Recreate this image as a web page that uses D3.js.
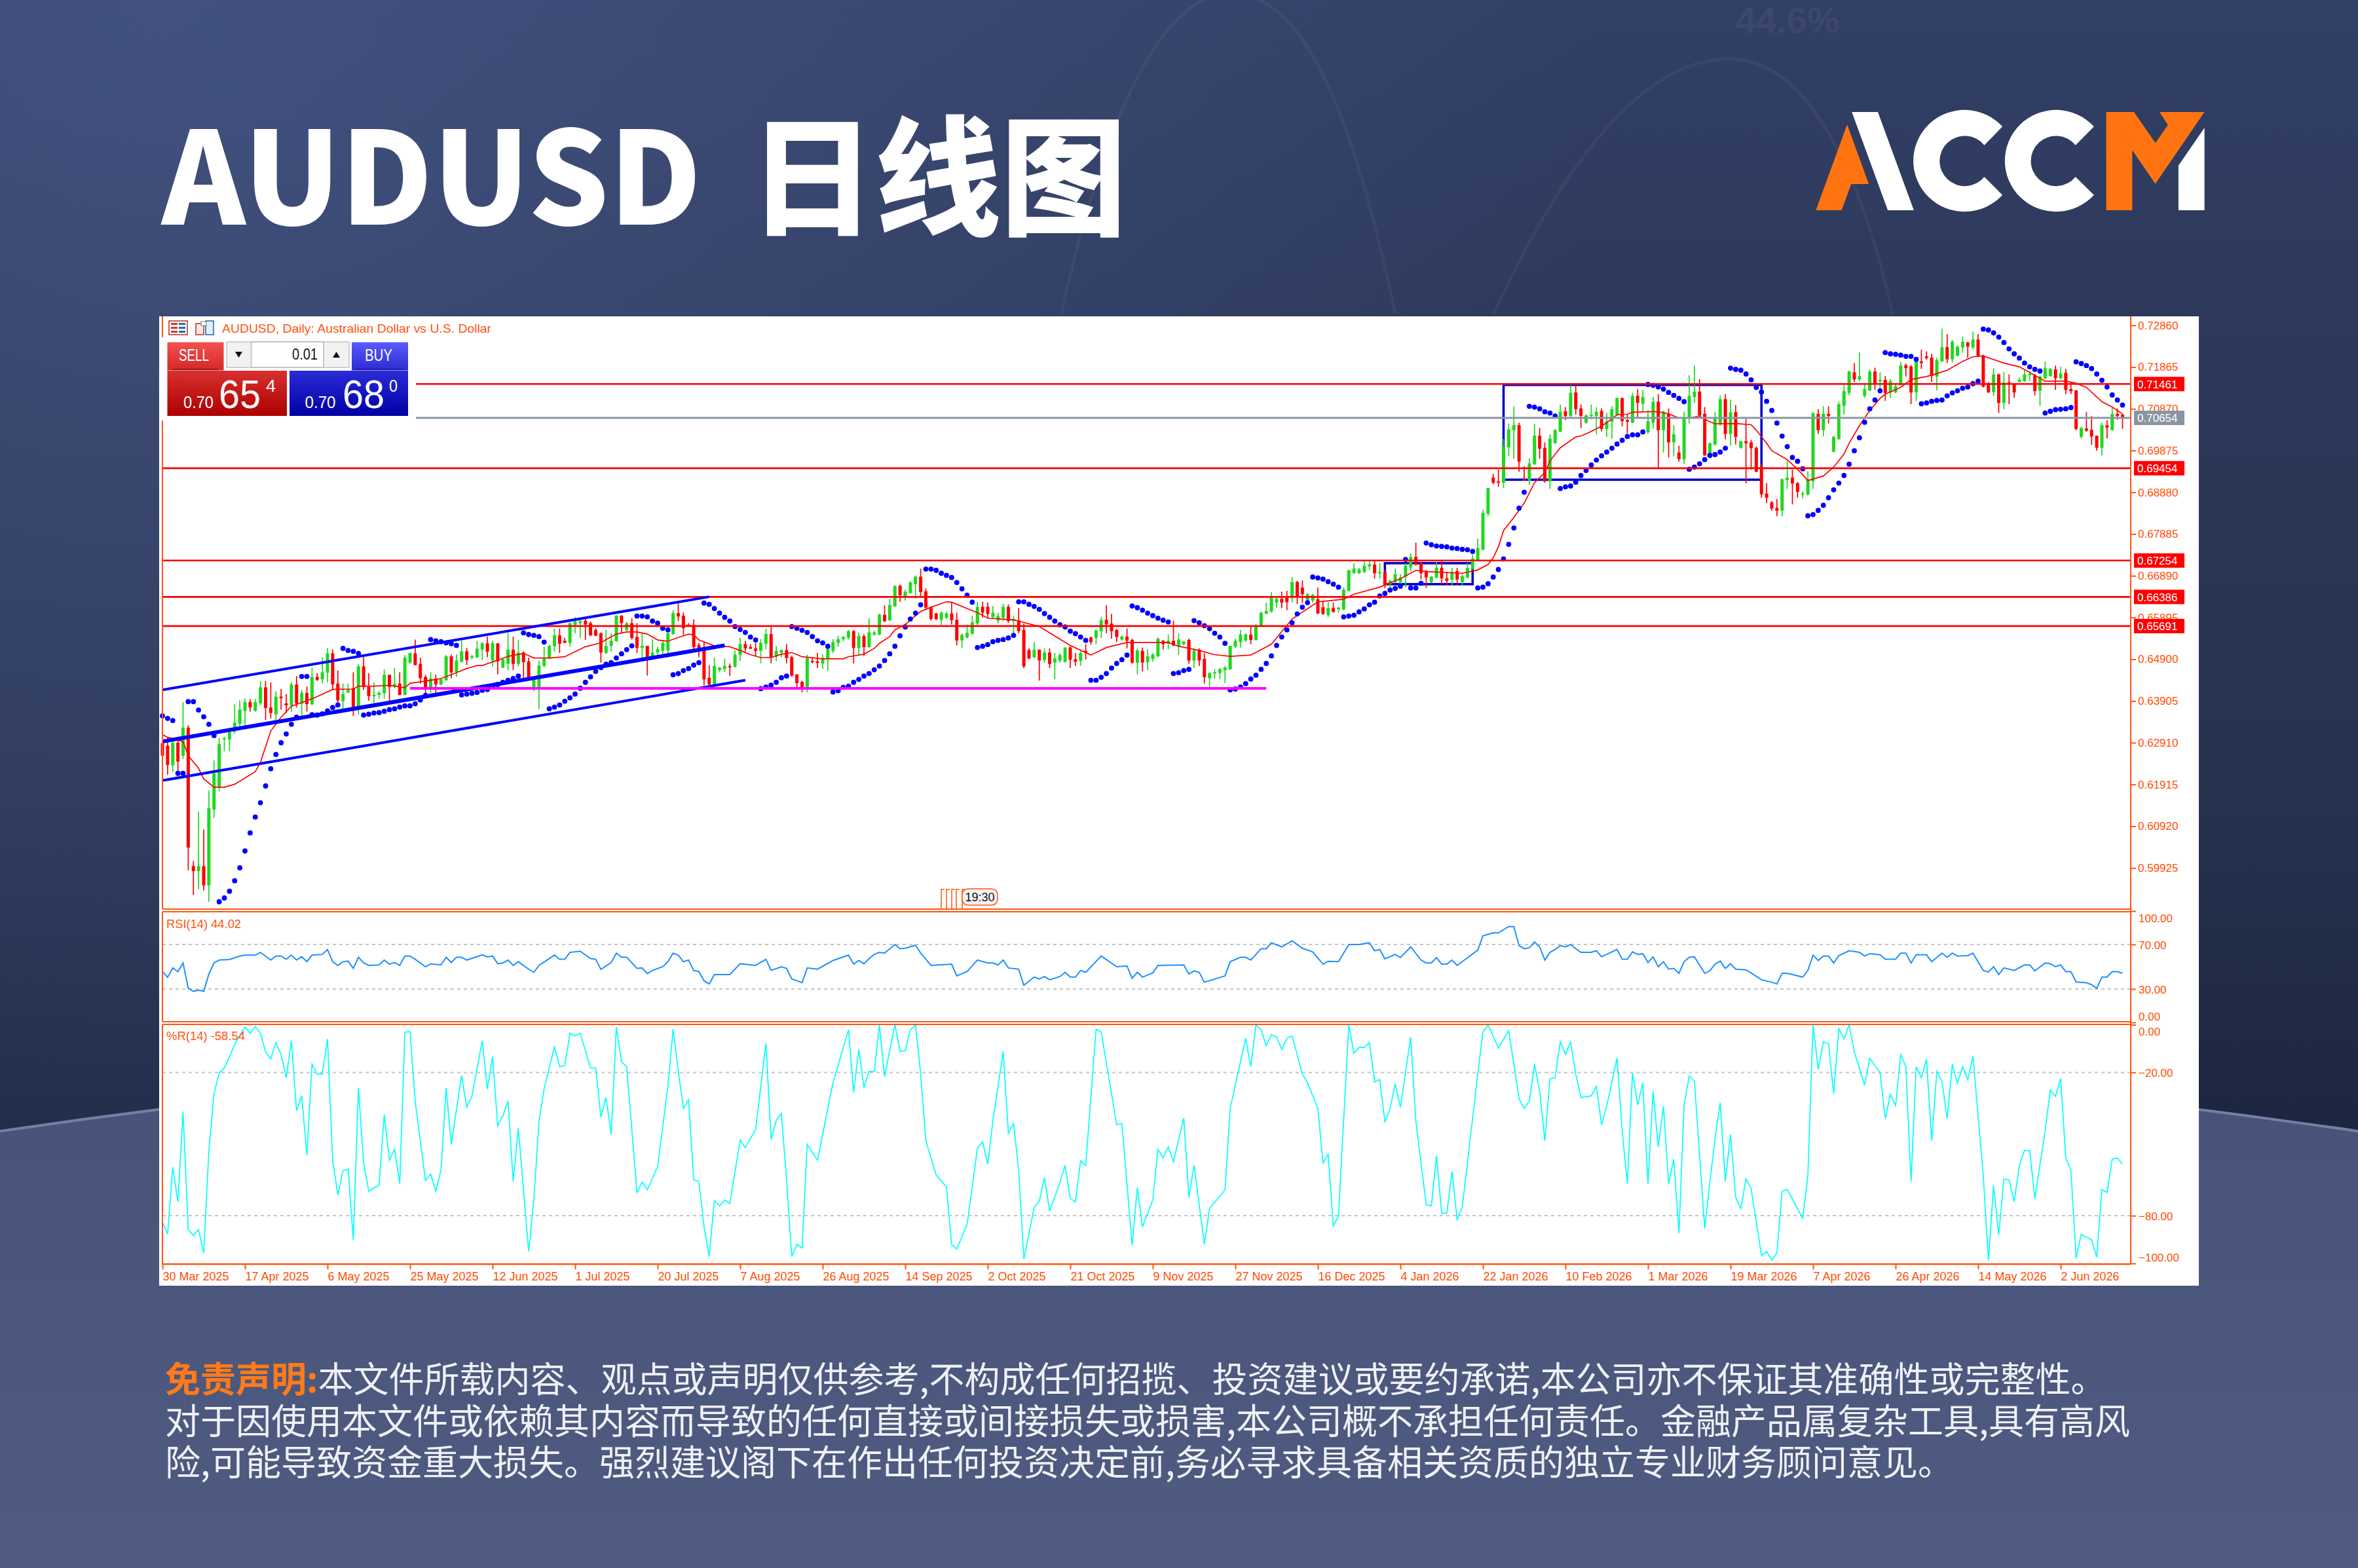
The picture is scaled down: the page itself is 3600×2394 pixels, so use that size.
<!DOCTYPE html>
<html lang="zh">
<head>
<meta charset="utf-8">
<title>AUDUSD 日线图</title>
<script src="https://cdn.jsdelivr.net/npm/d3@7"></script>
<style>
html,body{margin:0;padding:0;background:#2b3655;}
svg{display:block;}
.axis text{font-family:"Liberation Sans",Arial,sans-serif;font-size:17px;fill:#ff4f05;}
.axis path,.axis line{stroke:#ff5510;stroke-width:2;}
</style>
</head>
<body>
<svg id="chart" width="3600" height="2394" viewBox="0 0 3600 2394"></svg>
<script>
// Daily candles, in pips (price x 10000), one entry per trading bar.
const opens = [6290,6284,6237,6291,6260,6327,5997,5985,5997,5951,
6132,6185,6299,6299,6318,6336,6367,6388,6367,6385,
6423,6375,6359,6401,6385,6380,6430,6384,6410,6383,
6448,6442,6458,6504,6432,6390,6411,6421,6376,6473,
6424,6402,6405,6409,6453,6424,6432,6405,6482,6504,
6479,6448,6422,6444,6430,6440,6497,6459,6484,6509,
6495,6495,6513,6528,6487,6528,6470,6479,6513,6479,
6506,6485,6423,6422,6474,6492,6521,6547,6534,6529,
6572,6576,6582,6576,6560,6552,6505,6522,6533,6594,
6560,6576,6543,6517,6522,6495,6506,6510,6511,6550,
6600,6594,6572,6572,6524,6511,6446,6430,6464,6467,
6474,6472,6500,6526,6519,6516,6510,6527,6550,6496,
6506,6512,6495,6454,6436,6422,6486,6485,6480,6491,
6510,6529,6538,6541,6557,6517,6545,6519,6549,6549,
6596,6583,6616,6665,6640,6648,6669,6687,6652,6614,
6599,6584,6589,6599,6584,6535,6542,6551,6575,6615,
6615,6591,6582,6589,6615,6581,6583,6560,6512,6495,
6513,6488,6506,6482,6487,6484,6518,6490,6486,6510,
6542,6541,6557,6584,6575,6560,6537,6544,6536,6482,
6510,6483,6491,6497,6534,6527,6534,6521,6526,6536,
6487,6513,6491,6445,6456,6457,6464,6466,6520,6531,
6535,6549,6536,6568,6599,6604,6625,6634,6636,6639,
6674,6661,6631,6630,6633,6614,6595,6612,6609,6609,
6653,6695,6695,6698,6711,6716,6695,6697,6669,6674,
6674,6687,6709,6734,6720,6700,6674,6685,6708,6683,
6680,6700,6674,6685,6706,6726,6751,6837,6923,6914,
6911,6995,7036,7048,6919,6916,6955,7023,6994,6914,
7005,7033,7081,7070,7126,7088,7054,7070,7070,7082,
7039,7056,7073,7113,7060,7054,7118,7099,7031,7054,
7104,7036,7075,7007,6983,6967,7066,7115,7128,7075,
6981,7002,7051,7110,7027,7079,6994,7010,7007,6994,
6943,6885,6864,6851,6844,6917,6923,6910,6883,6883,
6914,7075,7036,7075,6985,7015,7094,7125,7174,7157,
7118,7131,7176,7153,7156,7126,7126,7143,7191,7188,
7126,7200,7212,7209,7164,7200,7234,7205,7214,7233,
7245,7233,7252,7214,7146,7127,7169,7101,7150,7147,
7151,7153,7167,7167,7130,7160,7165,7181,7160,7173,
7134,7131,7020,7040,7037,7023,6994,7048,7036,7075,7073];
const closes = [6260,6238,6291,6246,6327,6041,5985,5997,5951,6135,
6218,6288,6302,6316,6339,6370,6388,6375,6388,6423,
6374,6362,6401,6397,6380,6430,6384,6410,6383,6448,
6441,6459,6504,6430,6392,6407,6417,6375,6473,6424,
6402,6405,6410,6453,6424,6431,6405,6494,6505,6476,
6445,6422,6444,6430,6442,6497,6459,6487,6509,6488,
6497,6515,6528,6508,6528,6485,6490,6513,6479,6506,
6483,6445,6443,6475,6492,6522,6547,6527,6529,6576,
6580,6581,6573,6547,6546,6506,6522,6534,6594,6576,
6576,6541,6517,6522,6494,6506,6514,6529,6552,6600,
6592,6564,6568,6519,6517,6442,6430,6474,6470,6474,
6472,6501,6526,6516,6515,6510,6529,6550,6494,6510,
6512,6493,6451,6433,6422,6493,6483,6481,6493,6515,
6531,6538,6543,6557,6517,6545,6519,6554,6554,6596,
6581,6619,6665,6643,6651,6673,6687,6650,6613,6586,
6586,6601,6599,6583,6535,6548,6553,6578,6615,6601,
6598,6601,6593,6615,6581,6586,6557,6473,6492,6513,
6487,6506,6479,6492,6500,6518,6489,6484,6505,6505,
6531,6558,6583,6573,6557,6543,6544,6534,6482,6511,
6482,6497,6501,6539,6526,6534,6523,6537,6532,6487,
6511,6487,6447,6457,6459,6466,6470,6522,6534,6549,
6549,6536,6570,6601,6605,6636,6634,6625,6626,6674,
6639,6645,6645,6643,6599,6598,6612,6603,6613,6656,
6702,6706,6704,6713,6716,6695,6698,6667,6677,6693,
6685,6713,6734,6716,6695,6685,6687,6708,6683,6677,
6698,6680,6688,6708,6730,6755,6839,6898,6911,6911,
6997,7038,7048,6961,6916,6957,7023,6992,6914,7016,
7036,7080,7070,7125,7086,7070,7071,7073,7080,7039,
7057,7086,7113,7058,7056,7118,7101,7115,7057,7104,
7036,7080,7007,7026,6967,7065,7118,7128,7071,6976,
7005,7065,7110,7027,7079,7020,7010,7005,6993,6937,
6883,6875,6849,6844,6919,6923,6909,6889,6885,6919,
7077,7036,7075,7070,7020,7098,7129,7176,7157,7165,
7134,7176,7147,7156,7125,7153,7141,7190,7184,7126,
7200,7196,7208,7165,7203,7234,7205,7247,7235,7247,
7235,7252,7213,7140,7126,7169,7101,7150,7147,7126,
7156,7169,7170,7129,7164,7184,7182,7160,7171,7132,
7129,7039,7041,7035,7021,6994,7048,7042,7075,7070,7065];
const highs = [6305,6305,6299,6305,6388,6333,6009,6127,6084,6177,
6249,6302,6305,6324,6383,6392,6396,6395,6395,6438,
6438,6435,6414,6419,6407,6435,6450,6417,6425,6470,
6457,6495,6517,6513,6463,6432,6432,6459,6479,6495,
6457,6435,6414,6466,6453,6469,6459,6500,6506,6537,
6494,6453,6459,6453,6445,6500,6501,6502,6535,6517,
6501,6534,6531,6544,6534,6528,6492,6553,6544,6537,
6509,6494,6445,6487,6520,6525,6563,6563,6541,6577,
6591,6586,6586,6580,6564,6554,6560,6552,6595,6595,
6579,6588,6576,6552,6522,6538,6520,6536,6567,6607,
6625,6602,6576,6585,6529,6532,6476,6494,6472,6491,
6480,6511,6541,6534,6526,6529,6538,6563,6567,6522,
6513,6526,6498,6454,6439,6501,6493,6505,6501,6516,
6538,6546,6545,6560,6560,6554,6550,6588,6558,6599,
6619,6634,6665,6668,6656,6676,6690,6706,6659,6616,
6601,6604,6603,6626,6601,6552,6573,6594,6627,6627,
6625,6617,6601,6622,6621,6594,6612,6575,6516,6531,
6513,6516,6516,6505,6505,6518,6521,6505,6513,6526,
6544,6562,6591,6619,6598,6562,6547,6563,6539,6516,
6518,6513,6505,6542,6536,6549,6582,6552,6534,6539,
6516,6516,6505,6459,6466,6469,6474,6522,6539,6560,
6552,6568,6575,6603,6625,6650,6636,6651,6653,6686,
6677,6678,6648,6646,6661,6627,6627,6625,6615,6661,
6703,6719,6708,6725,6724,6726,6719,6703,6680,6706,
6693,6719,6742,6768,6721,6703,6688,6721,6725,6698,
6708,6708,6693,6719,6739,6777,6846,6898,6932,6942,
7015,7051,7093,7054,6950,6969,7051,7041,7007,7026,
7039,7097,7091,7143,7143,7097,7074,7097,7091,7088,
7078,7093,7114,7113,7075,7125,7134,7131,7084,7115,
7122,7083,7088,7048,6999,7080,7167,7190,7158,7091,
7007,7080,7119,7122,7109,7096,7011,7063,7013,6997,
6955,6910,6867,6872,6921,6963,6942,6912,6891,6938,
7079,7086,7093,7093,7023,7104,7144,7178,7196,7221,
7145,7181,7185,7174,7165,7158,7147,7199,7195,7191,
7202,7228,7224,7218,7209,7278,7265,7251,7238,7259,
7247,7271,7265,7216,7151,7184,7171,7174,7169,7148,
7162,7179,7177,7170,7166,7200,7184,7190,7187,7182,
7150,7132,7044,7079,7070,7023,7054,7060,7089,7088,7075];
const lows = [6240,6215,6221,6216,6252,5987,5928,5942,5939,5912,
6112,6176,6271,6271,6313,6328,6323,6365,6365,6380,
6345,6349,6344,6370,6362,6365,6375,6354,6365,6380,
6438,6432,6435,6419,6385,6371,6409,6355,6358,6417,
6391,6385,6396,6396,6390,6421,6404,6404,6479,6476,
6432,6406,6409,6409,6428,6438,6445,6448,6482,6476,
6490,6492,6488,6495,6473,6454,6469,6464,6464,6473,
6445,6444,6414,6371,6471,6490,6508,6505,6529,6520,
6552,6541,6536,6545,6545,6482,6503,6508,6532,6552,
6555,6537,6505,6494,6451,6494,6501,6502,6505,6548,
6581,6548,6567,6514,6495,6428,6428,6429,6459,6459,
6450,6470,6486,6508,6515,6498,6480,6514,6480,6486,
6495,6480,6448,6422,6411,6411,6480,6469,6467,6462,
6505,6520,6533,6537,6480,6501,6498,6517,6546,6547,
6578,6581,6615,6627,6630,6646,6635,6640,6610,6582,
6583,6572,6586,6573,6523,6517,6539,6549,6568,6589,
6588,6586,6575,6581,6577,6552,6552,6469,6490,6492,
6439,6482,6469,6442,6482,6482,6469,6474,6475,6489,
6525,6526,6541,6552,6539,6531,6534,6516,6479,6454,
6461,6464,6484,6495,6513,6514,6521,6500,6523,6479,
6469,6474,6432,6422,6443,6443,6433,6465,6516,6518,
6531,6526,6534,6567,6597,6601,6613,6612,6607,6625,
6622,6625,6620,6625,6598,6596,6591,6601,6601,6607,
6652,6694,6694,6695,6703,6682,6682,6659,6661,6672,
6667,6661,6700,6713,6680,6660,6672,6682,6669,6667,
6667,6667,6667,6682,6703,6724,6750,6831,6907,6901,
6898,6974,6968,6937,6916,6906,6953,6968,6911,6896,
7004,7031,7060,7068,7073,7041,7051,7062,7026,7033,
7020,7015,7070,7045,7028,7053,7065,7080,7028,7039,
6945,6983,6971,6974,6961,6955,7052,7101,7070,6975,
6974,6999,7046,7014,6999,7002,6992,6909,6942,6936,
6875,6862,6844,6831,6831,6896,6859,6875,6874,6880,
6896,7027,7021,7052,6983,7013,7073,7119,7151,7153,
7113,7129,7132,7132,7106,7113,7124,7143,7164,7098,
7106,7182,7204,7151,7131,7199,7196,7197,7211,7221,
7208,7228,7212,7138,7125,7117,7077,7086,7098,7113,
7150,7151,7153,7119,7094,7157,7164,7132,7157,7122,
7122,7036,7016,7032,7001,6987,6976,7016,7035,7061,7039];

// Parabolic SAR, one dot per bar, in pips.
const sar = [6355,6349,6344,6218,6218,6389,6389,6369,6353,6335,
6308,5912,5921,5937,5962,5993,6033,6076,6114,6148,
6188,6229,6263,6291,6312,6335,6352,6449,6449,6358,
6357,6360,6367,6375,6381,6516,6511,6509,6504,6357,
6359,6362,6363,6366,6370,6372,6376,6379,6379,6384,
6393,6404,6537,6534,6532,6529,6527,6523,6405,6407,
6409,6411,6416,6418,6424,6430,6435,6440,6444,6450,
6553,6549,6547,6544,6531,6372,6376,6381,6390,6398,
6407,6421,6435,6448,6461,6470,6478,6482,6493,6503,
6513,6522,6593,6593,6591,6581,6576,6564,6560,6453,
6456,6463,6468,6476,6482,6624,6621,6611,6600,6590,
6581,6568,6561,6554,6543,6536,6420,6424,6428,6435,
6446,6450,6568,6564,6559,6554,6544,6534,6529,6521,
6412,6415,6423,6426,6435,6442,6450,6456,6465,6474,
6487,6503,6521,6546,6567,6586,6600,6620,6705,6705,
6702,6695,6690,6685,6673,6658,6643,6626,6518,6521,
6525,6532,6535,6537,6541,6547,6627,6627,6621,6616,
6609,6599,6590,6581,6572,6567,6557,6551,6543,6535,
6440,6440,6447,6456,6469,6480,6489,6500,6617,6613,
6607,6600,6594,6588,6583,6579,6456,6458,6463,6466,
6582,6577,6570,6563,6552,6543,6528,6417,6419,6424,
6432,6443,6452,6466,6480,6498,6523,6543,6560,6577,
6598,6614,6625,6686,6684,6681,6675,6669,6662,6591,
6593,6595,6603,6610,6620,6626,6641,6647,6655,6659,
6664,6728,6660,6660,6671,6767,6763,6760,6759,6758,
6755,6754,6752,6751,6747,6660,6662,6670,6686,6704,
6729,6764,6803,6850,6888,7093,7091,7087,7080,7077,
7070,6897,6901,6903,6912,6928,6940,6953,6965,6975,
6984,6993,7003,7012,7021,7025,7025,7032,7145,7143,
7139,7134,7126,7119,7112,7104,6943,6948,6956,6966,
6976,6978,6984,6993,7184,7181,7179,7170,7156,7138,
7127,7105,7083,7053,7022,6997,6971,6962,6944,6832,
6835,6845,6857,6875,6894,6910,6928,6955,6987,7018,
7055,7087,7108,7130,7221,7218,7217,7215,7212,7212,
7205,7099,7101,7105,7107,7108,7118,7125,7130,7136,
7139,7147,7153,7277,7275,7268,7258,7245,7230,7218,
7208,7196,7187,7181,7177,7077,7081,7085,7086,7087,
7090,7199,7195,7190,7183,7170,7155,7139,7120,7108,7096];

// Moving average: turning points of the line, as bar number and pips.
const maBars = [0,1,4,5,7,8,10,12,14,18,19,21,23,25,28,30,33,37,38,41,44,46,47,48,50,52,54,57,59,61,62,65,67,70,72,75,78,80,82,85,86,88,90,92,94,96,98,100,102,103,104,107,110,112,114,116,118,120,122,124,128,132,133,136,138,139,141,142,144,147,149,152,153,158,160,165,166,170,176,180,183,187,195,197,201,204,207,211,215,219,224,229,231,236,240,243,245,252,255,257,258,259,260,262,264,266,268,269,271,274,275,277,279,280,282,284,285,288,290,292,294,296,298,299,301,305,308,309,311,312,315,317,319,322,324,326,327,329,331,333,334,337,339,342,344,346,349,351,353,357,360,362,365,369,371,373,376,378,380];
const maValues = [6310,6304,6294,6260,6230,6205,6185,6185,6192,6222,6244,6319,6352,6378,6391,6401,6418,6419,6426,6426,6428,6424,6422,6433,6436,6440,6444,6458,6468,6475,6475,6488,6497,6504,6493,6493,6496,6508,6520,6529,6537,6550,6555,6555,6550,6536,6533,6542,6550,6548,6536,6522,6520,6511,6501,6494,6494,6502,6506,6496,6491,6491,6496,6502,6516,6528,6544,6560,6573,6604,6614,6627,6626,6601,6588,6584,6581,6568,6523,6500,6518,6530,6530,6521,6511,6501,6497,6500,6526,6586,6627,6633,6645,6662,6682,6702,6699,6695,6703,6716,6732,6758,6797,6828,6862,6911,6935,6963,6994,7020,7022,7033,7046,7054,7073,7074,7079,7080,7080,7075,7065,7065,7070,7062,7051,7052,7049,7036,7005,6987,6966,6943,6916,6927,6948,6979,7005,7047,7083,7112,7122,7138,7157,7164,7171,7179,7200,7211,7213,7196,7187,7174,7153,7153,7148,7138,7104,7091,7075];

// RSI(14): vertices of the line, as bar number and value.
const rsiBars = [0,1,2,3,4,5,6,7,8,9,10,11,13,15,16,18,19,21,22,23,24,25,26,27,28,29,31,32,33,34,35,36,37,38,39,40,42,43,44,45,46,47,48,49,51,52,54,55,56,57,58,59,62,63,64,65,66,67,68,69,71,72,73,76,77,78,79,81,83,84,85,87,88,89,90,92,93,94,95,97,98,99,100,101,102,103,104,105,106,107,110,112,115,117,118,120,121,122,123,124,125,127,130,133,134,135,136,137,138,139,140,142,143,144,146,147,149,153,154,156,158,160,161,162,163,164,166,167,169,170,171,172,174,175,176,177,178,179,182,185,187,188,189,190,192,193,198,199,200,201,202,206,207,209,210,211,213,214,215,217,219,221,223,225,226,228,230,232,234,235,236,237,239,240,242,244,245,246,247,248,249,250,251,255,256,258,259,261,262,263,264,265,266,267,268,269,270,271,272,273,274,275,277,278,279,280,282,283,284,285,286,287,288,289,290,291,292,293,294,295,296,297,299,300,301,302,303,304,305,307,308,310,312,313,314,315,318,319,320,321,322,323,324,325,327,329,330,331,333,334,336,337,338,339,340,342,343,345,346,347,348,350,351,353,354,355,356,357,359,361,362,363,365,366,367,368,369,370,371,373,374,375,376,377,378,379,380];
const rsiValues = [45.6,40.5,49,45.6,53.4,30.6,27.9,29,27.9,43.4,53.4,56,56.5,59.6,60.4,60.4,62.9,56,59.6,59.6,56.7,60.4,56,58.9,54.5,60.4,61.1,65.5,54.5,51.2,54.5,55.1,48.5,58.5,53.4,51.2,51.6,56,52.3,53.8,51.2,59.6,59.6,56.7,50,52.7,51.6,58.5,53.8,58.5,58.5,56,60.7,58.9,59.6,52.7,53.4,56,51.2,54.5,47.8,45,51.2,60.4,56.7,56.7,62.9,64,57.3,56.7,47.6,53.8,62.2,58.5,58.5,48.5,48.9,43.8,46.7,50,54.5,62.2,60.4,54.5,56,46.7,45.6,37.4,34.5,43,43,52.7,51.2,56.7,46.7,50,48.5,39,37.4,35.6,48.9,47.8,55.6,60.4,52.3,55.6,52.7,57.3,61.1,62.9,62.2,70,66.2,66.6,69.3,62.2,51.2,52.3,41.8,45.6,56,53.4,53.4,51.6,56,48.9,47.8,33.4,40.7,39,41.2,38.3,41.2,45,40.7,40.7,46.7,45,59.6,50,50.7,39.6,45,40.7,44.5,51.2,51.6,43.4,46.3,45,36.1,41.8,54.5,58.5,58.5,56,66.2,66.2,71.5,67.8,73.3,66.6,63.3,52.3,54.9,54.5,70,70,71.5,64.4,65.5,57.1,61.1,58.2,67.8,56,53.4,53.4,58.2,52.3,52.3,56,51.2,64.9,77.7,80.4,80.4,86.1,86.1,68.9,66.2,67.1,72.2,67.8,56,62.9,65.5,68.9,67.8,70,66.2,62.9,62.9,64.4,58.9,61.1,65.5,56.7,56.7,63.3,61.1,61.8,53.8,58.9,50,54.5,47.8,48.5,44.1,54.5,58.5,58.9,44.1,46.3,52.3,55.1,48.5,52.7,47.8,47.2,44.5,38.3,36.1,34.5,44.1,44.1,40.7,46.7,60.4,55.6,59.6,59.6,53.4,60,64.4,62.9,59.6,61.8,60.7,56.7,56.7,62.2,62.2,53.4,60.7,60.7,54.5,62.2,58.5,62.2,59.6,60,62.2,46.7,45.2,50,43,48.9,46.7,51.6,51.6,46.3,53.4,52.7,50,51.6,45.6,45.6,36.3,35.6,33.9,30.6,40.7,40.7,45.6,45.6,44.1];

// Williams %R(14): vertices of the line, as bar number and value.
const wprBars = [0,1,2,3,4,5,6,7,8,9,10,11,12,13,14,16,17,18,19,20,21,22,23,24,25,26,27,28,29,30,31,32,33,34,35,36,37,38,39,40,42,43,44,45,46,47,48,49,51,52,53,54,55,56,58,59,60,62,63,64,65,66,67,68,69,71,72,73,74,76,77,78,79,80,81,83,84,85,86,87,88,89,90,92,93,94,96,98,99,100,101,102,103,104,105,106,107,108,109,110,112,113,115,117,118,119,120,121,122,123,124,125,127,130,133,134,135,136,137,138,139,140,142,143,144,145,146,147,148,150,152,153,154,156,158,159,160,161,163,164,165,166,167,169,170,171,172,174,175,176,177,178,179,181,182,185,186,188,189,190,192,193,194,195,196,198,199,200,202,203,206,207,210,211,212,213,214,215,216,217,218,219,221,222,224,225,226,227,228,230,231,232,233,234,235,236,237,238,239,240,242,243,245,246,247,248,249,250,251,252,255,256,257,259,261,263,264,265,266,267,268,269,270,271,272,273,274,275,277,278,279,280,282,283,284,285,286,287,288,289,290,291,292,293,294,295,296,297,299,300,301,302,303,304,305,306,307,308,310,311,312,313,314,315,318,319,320,321,322,323,324,325,326,327,328,330,331,333,334,335,336,337,338,339,340,341,342,343,344,345,346,347,348,349,350,351,353,354,355,356,357,358,359,360,361,362,363,365,366,367,368,369,370,371,372,374,375,376,377,378,379,380];
const wprValues = [-82.7,-87.8,-59.7,-74.2,-36.7,-85.8,-88.3,-85.8,-95.8,-52.7,-28.9,-20.2,-18.1,-13.4,-8.3,-1,-3.6,-0.7,-3.6,-11.4,-14.3,-7.5,-12.4,-22.2,-6.7,-36,-29.8,-54.8,-16.5,-20.7,-20.7,-6,-56.8,-71.3,-61.2,-60.4,-90.1,-26.4,-57.9,-69.7,-67.2,-37.7,-56.8,-52.2,-66.6,-3.1,-2.9,-32,-65.3,-62.5,-69.7,-61,-26.4,-50.1,-21.2,-34.6,-30,-6.7,-26.9,-13.4,-42.4,-38.2,-32,-65.6,-43.4,-95,-73.4,-40.3,-26.9,-9.1,-17.6,-17.1,-3.6,-4.7,-3.6,-18.1,-18.1,-38.7,-30.5,-46,-1,-15.5,-17.6,-70.3,-65.9,-69.2,-59.4,-25.8,-1.9,-19.6,-35.1,-31.5,-65,-65.6,-84.7,-97.1,-73.6,-76,-73.4,-74.9,-48.4,-51.5,-43.9,-7.8,-48,-40.1,-37.2,-65.1,-97.1,-92,-93.5,-50.1,-56.8,-24.3,-2.1,-28.4,-10.3,-26.4,-19.6,-19.6,0,-21.7,0,-11.1,-10.9,-2.1,0,-20.7,-48.6,-63,-68,-92,-94,-83.7,-51.7,-49.1,-58.4,-40.3,-11.1,-45.5,-41.3,-61,-98.2,-76.5,-73.9,-64.1,-78,-66.1,-58.9,-72.8,-74.2,-57,-58.9,-1.9,-3.1,-41.9,-41.3,-92.5,-68.2,-84.7,-73.4,-52.2,-55.8,-51.2,-57.4,-39.1,-72.3,-58.9,-92,-77,-69.2,-35.1,-5.7,-17.6,0,-2.1,-8.8,-4.2,-5.2,-10.3,-5.7,-4.7,-20.7,-24.3,-35.1,-57.9,-54.3,-84.2,-80.1,0,-11.9,-9.5,-9.5,-7.5,-24,-23,-40.8,-35.1,-24.8,-34.6,-5.2,-40.3,-75.4,-75.9,-54.8,-79,-79,-61.5,-81.6,-76.5,-20.7,-3.1,0,-9.8,-2.6,-31,-35.1,-32,-16.5,-27.9,-48.6,-22.7,-22.2,-7.2,-12.4,-7.2,-20.7,-30.5,-29.8,-25.8,-41.9,-34.1,-14,-44.4,-66.6,-20.2,-33.6,-24.3,-66.6,-27.9,-51.2,-34.1,-66.6,-56.3,-87.3,-33.6,-21.4,-23.8,-85.2,-66.1,-47.5,-32.6,-65.6,-46,-72.3,-77,-64.6,-68.7,-96.6,-95,-98.7,-95.6,-69.7,-69,-81.1,-63,0,-18.6,-7.2,-8.1,-28.9,-1.6,-6,0,-11.4,-25.3,-14,-20.2,-39.3,-29.2,-33.9,-12.6,-17.6,-65.6,-17.6,-22.2,-14.5,-48.6,-19.6,-23.8,-39.3,-16.5,-24.6,-17.6,-23,-13.2,-63,-98.9,-67.4,-88,-64.6,-65.1,-74.2,-58.9,-52.7,-52.7,-72.8,-44.4,-27.4,-30,-22.5,-55.8,-61,-97.8,-87.8,-90.1,-97.3,-69,-70.3,-56.3,-55.8,-58.4];

// Axis labels and reference levels.
const priceTicks = [0.72860,0.71865,0.70870,0.69875,0.68880,0.67885,0.66890,0.65895,0.64900,0.63905,0.62910,0.61915,0.60920,0.59925];
const levels = [0.71461,0.69454,0.67254,0.66386,0.65691];
const bidLevel = 0.70654;
const rsiTicks = [100,70,30,0];
const wprTicks = [0,-20,-80,-100];
const dateLabels = ["30 Mar 2025","17 Apr 2025","6 May 2025","25 May 2025","12 Jun 2025","1 Jul 2025","20 Jul 2025","7 Aug 2025","26 Aug 2025","14 Sep 2025","2 Oct 2025","21 Oct 2025","9 Nov 2025","27 Nov 2025","16 Dec 2025","4 Jan 2026","22 Jan 2026","10 Feb 2026","1 Mar 2026","19 Mar 2026","7 Apr 2026","26 Apr 2026","14 May 2026","2 Jun 2026"];

// Drawn objects: bar/pips endpoints of the channel, support line and boxes.
const channels = [
  {from:[0,6417],to:[106,6639],w:4},
  {from:[0,6294],to:[109,6523],w:6},
  {from:[0,6201],to:[113,6440],w:4}
];
const supportLine = {from:[48,6420.5],to:[214,6420.5]};
const boxes = [
  {bars:[260,310],pips:[7144,6918]},
  {bars:[237,254],pips:[6719,6669]}
];

const disclaimerHead = "免责声明:";
const disclaimerLines = [
  "本文件所载内容、观点或声明仅供参考,不构成任何招揽、投资建议或要约承诺,本公司亦不保证其准确性或完整性。",
  "对于因使用本文件或依赖其内容而导致的任何直接或间接损失或损害,本公司概不承担任何责任。金融产品属复杂工具,具有高风",
  "险,可能导致资金重大损失。强烈建议阁下在作出任何投资决定前,务必寻求具备相关资质的独立专业财务顾问意见。"
];

const ORANGE = "#ff5510";
const CJK = '"Noto Sans CJK SC","Noto Sans",sans-serif';
const LATIN = '"Liberation Sans",Arial,sans-serif';

const svg = d3.select("#chart");
const defs = svg.append("defs");

function gradient(id, stops, dir) {
  const g = defs.append("linearGradient").attr("id", id)
    .attr("x1", dir ? dir[0] : 0).attr("y1", dir ? dir[1] : 0)
    .attr("x2", dir ? dir[2] : 0).attr("y2", dir ? dir[3] : 1);
  stops.forEach(s => g.append("stop").attr("offset", s[0]).attr("stop-color", s[1]));
}
gradient("pageBg", [[0,"#323f66"],[0.25,"#2c3859"],[0.5,"#27324f"],[0.72,"#1c2640"]]);
gradient("lowerBand", [[0,"#465278"],[1,"#4f5b80"]]);
gradient("sellTop", [[0,"#f55050"],[1,"#d42828"]]);
gradient("sellBody", [[0,"#d83030"],[1,"#ae0000"]]);
gradient("buyTop", [[0,"#5a5aff"],[1,"#2c2cd0"]]);
gradient("buyBody", [[0,"#2c2cd8"],[1,"#0000a4"]]);
const corner = defs.append("radialGradient").attr("id","cornerGlow").attr("gradientUnits","userSpaceOnUse")
  .attr("cx",250).attr("cy",0).attr("r",2200);
corner.append("stop").attr("offset",0).attr("stop-color","#4a5b8c").attr("stop-opacity",0.65);
corner.append("stop").attr("offset",1).attr("stop-color","#4a5b8c").attr("stop-opacity",0);

// Page backdrop
svg.append("rect").attr("width",3600).attr("height",2394).attr("fill","url(#pageBg)");
svg.append("rect").attr("width",3600).attr("height",2394).attr("fill","url(#cornerGlow)");
const band = svg.append("g");
band.append("path").attr("d","M0 1727 Q1800 1463 3600 1727 L3600 2394 L0 2394 Z").attr("fill","url(#lowerBand)");
band.append("path").attr("d","M0 1727 Q1800 1463 3600 1727").attr("fill","none").attr("stroke","#7480a3").attr("stroke-width",4);

// Faint backdrop figures above the chart card
const ghost = svg.append("g").attr("fill","none").attr("stroke","#ffffff").attr("stroke-opacity",0.045).attr("stroke-width",5);
ghost.append("path").attr("d","M1620 480 C1700 120 1790 -10 1880 -10 C1980 -10 2060 140 2130 480");
ghost.append("path").attr("d","M2280 480 C2400 220 2520 90 2640 90 C2760 90 2840 260 2890 480");
svg.append("text").attr("x",2650).attr("y",50).attr("font-family",LATIN).attr("font-size",56).attr("font-weight",700)
  .attr("fill","#ffffff").attr("fill-opacity",0.05).text("44.6%");

// Heading
const heading = svg.append("g").attr("font-family",CJK).attr("font-weight",900).attr("font-size",196).attr("fill","#ffffff");
heading.append("text").attr("x",247).attr("y",343).attr("textLength",824).attr("lengthAdjust","spacingAndGlyphs").text("AUDUSD");
heading.append("text").attr("x",1144).attr("y",343).attr("textLength",576).attr("lengthAdjust","spacingAndGlyphs").text("日线图");

// Company mark
const logo = svg.append("g").attr("transform","translate(2700,130) scale(0.44643,0.33333)");
const MARK_ORANGE = "#ff7410";
logo.append("path").attr("fill",MARK_ORANGE).attr("d","M162 573 L269 180 L343 453 L283 453 L250 573 Z");
logo.append("path").attr("fill","#fff").attr("d","M285 123 L374 123 L497 573 L408 573 Z");
logo.append("path").attr("fill","#fff").attr("d","M800 190 A175 233 0 1 0 800 503 L738 420 A86 115 0 1 1 738 275 Z");
logo.append("path").attr("fill","#fff").attr("d","M1113 190 A175 233 0 1 0 1113 503 L1050 420 A86 115 0 1 1 1050 275 Z");
logo.append("path").attr("fill",MARK_ORANGE).attr("d","M1155 123 L1250 123 L1323 265 L1366 182 L1337 123 L1491 123 L1323 452 L1244 298 L1244 573 L1155 573 Z");
logo.append("path").attr("fill","#fff").attr("d","M1491 195 L1491 573 L1402 573 L1402 368 Z");

// White chart card
svg.append("rect").attr("x",243).attr("y",483).attr("width",3114).attr("height",1480).attr("fill","#ffffff");

// Scales shared by the three panes
const PX_LEFT = 248, PX_RIGHT = 3253;
const x = d3.scaleLinear().domain([0,380]).range([PX_LEFT, PX_LEFT + 7.875*380]);
const y = d3.scaleLinear().domain([0.72860,0.59925]).range([496.7,1325.2]);
const yPip = p => y(p/10000);
const yRsi = d3.scaleLinear().domain([0,100]).range([1561,1391]);
const yWpr = d3.scaleLinear().domain([0,-100]).range([1564.5,1929]);

// Boxes sit behind the candles
svg.append("g").selectAll("rect").data(boxes).join("rect")
  .attr("x",d=>x(d.bars[0])).attr("width",d=>x(d.bars[1])-x(d.bars[0]))
  .attr("y",d=>yPip(d.pips[0])).attr("height",d=>yPip(d.pips[1])-yPip(d.pips[0]))
  .attr("fill","none").attr("stroke","#0000c8").attr("stroke-width",3.6);

// Candles
const UP = "#20d820", DOWN = "#ff0000";
const bars = d3.range(opens.length);
const candleColor = i => closes[i] >= opens[i] ? UP : DOWN;
const candles = svg.append("g");
candles.selectAll("rect.wick").data(bars).join("rect").attr("class","wick")
  .attr("x",i=>x(i)-0.85).attr("width",1.7)
  .attr("y",i=>yPip(highs[i])).attr("height",i=>yPip(lows[i])-yPip(highs[i]))
  .attr("fill",candleColor);
candles.selectAll("rect.body").data(bars).join("rect").attr("class","body")
  .attr("x",i=>x(i)-2.5).attr("width",5)
  .attr("y",i=>yPip(Math.max(opens[i],closes[i])))
  .attr("height",i=>Math.max(2,Math.abs(yPip(opens[i])-yPip(closes[i]))))
  .attr("fill",candleColor);

// Moving average
svg.append("path").datum(maBars)
  .attr("d",d3.line().x(b=>x(b)).y((b,k)=>yPip(maValues[k])))
  .attr("fill","none").attr("stroke","#ff0000").attr("stroke-width",1.7);

// Parabolic SAR
svg.append("g").selectAll("circle").data(sar).join("circle")
  .attr("cx",(d,i)=>x(i)).attr("cy",d=>yPip(d)).attr("r",3.9).attr("fill","#0000ff");

// Horizontal levels
svg.append("g").selectAll("line").data(levels).join("line")
  .attr("x1",PX_LEFT).attr("x2",PX_RIGHT).attr("y1",d=>y(d)).attr("y2",d=>y(d))
  .attr("stroke","#ff0000").attr("stroke-width",2.6);
svg.append("line").attr("x1",PX_LEFT).attr("x2",PX_RIGHT).attr("y1",y(bidLevel)).attr("y2",y(bidLevel))
  .attr("stroke","#8a96a4").attr("stroke-width",2.8);

// Trend channel and support
svg.append("g").selectAll("line").data(channels).join("line")
  .attr("x1",d=>x(d.from[0])).attr("y1",d=>yPip(d.from[1]))
  .attr("x2",d=>x(d.to[0])).attr("y2",d=>yPip(d.to[1]))
  .attr("stroke","#0000ff").attr("stroke-width",d=>d.w);
svg.append("line")
  .attr("x1",x(supportLine.from[0])).attr("y1",yPip(supportLine.from[1]))
  .attr("x2",x(supportLine.to[0])).attr("y2",yPip(supportLine.to[1]))
  .attr("stroke","#ff00ff").attr("stroke-width",4);

// Time marker resting on the main pane floor
const marker = svg.append("g");
[1437,1445,1453,1460,1469].forEach(px => {
  marker.append("line").attr("x1",px).attr("x2",px).attr("y1",1357).attr("y2",1388).attr("stroke",ORANGE).attr("stroke-width",1.5);
  marker.append("line").attr("x1",px).attr("x2",px+5).attr("y1",1358).attr("y2",1358).attr("stroke",ORANGE).attr("stroke-width",1.5);
});
marker.append("rect").attr("x",1469).attr("y",1357).attr("width",54).attr("height",25).attr("rx",9)
  .attr("fill","#f2f2f2").attr("stroke",ORANGE).attr("stroke-width",1.5);
marker.append("text").attr("x",1496).attr("y",1376).attr("text-anchor","middle").attr("font-family",LATIN).attr("font-size",18).attr("fill","#111").text("19:30");

// Indicator guide lines
const guides = svg.append("g").attr("stroke","#c4c4c4").attr("stroke-width",2).attr("stroke-dasharray","5 5");
[70,30].forEach(v => guides.append("line").attr("x1",PX_LEFT).attr("x2",PX_RIGHT).attr("y1",yRsi(v)).attr("y2",yRsi(v)));
[-20,-80].forEach(v => guides.append("line").attr("x1",PX_LEFT).attr("x2",PX_RIGHT).attr("y1",yWpr(v)).attr("y2",yWpr(v)));

// RSI and %R lines
svg.append("path").datum(rsiBars)
  .attr("d",d3.line().x(b=>x(b)).y((b,k)=>yRsi(rsiValues[k])))
  .attr("fill","none").attr("stroke","#1e90ff").attr("stroke-width",2);
svg.append("path").datum(wprBars)
  .attr("d",d3.line().x(b=>x(b)).y((b,k)=>yWpr(wprValues[k])))
  .attr("fill","none").attr("stroke","#00ffff").attr("stroke-width",1.7);

// Pane frames
const frames = svg.append("g").attr("stroke",ORANGE).attr("stroke-width",2).attr("fill","none");
[1388,1392,1560,1564].forEach(v => frames.append("line").attr("x1",PX_LEFT).attr("x2",PX_RIGHT).attr("y1",v).attr("y2",v));
frames.append("line").attr("x1",PX_LEFT).attr("x2",PX_RIGHT).attr("y1",1930).attr("y2",1930).attr("stroke-width",2.6);
[[483,1388],[1392,1560],[1564,1930]].forEach(r =>
  frames.append("line").attr("x1",PX_LEFT).attr("x2",PX_LEFT).attr("y1",r[0]).attr("y2",r[1]));
frames.append("line").attr("x1",PX_RIGHT).attr("x2",PX_RIGHT).attr("y1",483).attr("y2",1930);

// Right-hand price axis
const priceAxis = svg.append("g").attr("class","axis").attr("transform",`translate(${PX_RIGHT},0)`)
  .call(d3.axisRight(y).tickValues(priceTicks).tickSize(8).tickPadding(3).tickFormat(d3.format(".5f")));
priceAxis.select(".domain").remove();

// Price tags laid over the axis
const tagData = levels.map(v => ({v, fill:"#ff0000"})).concat([{v:bidLevel, fill:"#8a95a3"}]);
const tags = svg.append("g").selectAll("g").data(tagData).join("g")
  .attr("transform",d=>`translate(3258,${y(d.v)})`);
tags.append("rect").attr("y",-11).attr("width",77).attr("height",22).attr("fill",d=>d.fill);
tags.append("text").attr("x",5).attr("y",6.5).attr("font-family",LATIN).attr("font-size",17).attr("fill","#fff")
  .text(d=>d.v.toFixed(5));

// Indicator axes, with end labels tucked inside their panes
function paneAxis(scale, ticks, shift) {
  const g = svg.append("g").attr("class","axis").attr("transform",`translate(${PX_RIGHT},0)`)
    .call(d3.axisRight(scale).tickValues(ticks).tickSize(8).tickPadding(4).tickFormat(d3.format(".2f")));
  g.select(".domain").remove();
  g.selectAll(".tick text").attr("dy",d=>(shift[d]||0)+6);
}
paneAxis(yRsi, rsiTicks, {100:10, 0:-10});
paneAxis(yWpr, wprTicks, {0:10, "-100":-10});

// Date axis, one label every 16 bars
const dateAxis = svg.append("g").attr("class","axis").attr("transform","translate(0,1930)")
  .call(d3.axisBottom(x).tickValues(d3.range(dateLabels.length).map(k=>k*16)).tickSize(8).tickPadding(5)
    .tickFormat((d,k)=>dateLabels[k]));
dateAxis.select(".domain").remove();
dateAxis.selectAll(".tick text").attr("text-anchor","start").style("font-size","18px").attr("dy","0.65em");

// Chart caption and pane captions
function caption(px, py, str, width) {
  svg.append("text").attr("x",px).attr("y",py).attr("font-family",LATIN).attr("font-size",18).attr("fill",ORANGE)
    .attr("textLength",width).attr("lengthAdjust","spacingAndGlyphs").text(str);
}
caption(339,508,"AUDUSD, Daily:  Australian Dollar vs U.S. Dollar",411);
caption(254,1417,"RSI(14) 44.02",114);
caption(254,1588,"%R(14) -58.54",120);

// Small toolbar glyphs beside the caption
const icon = svg.append("g");
icon.append("rect").attr("x",258).attr("y",490).attr("width",28).attr("height",21).attr("fill","#fff").attr("stroke","#c0392b").attr("stroke-width",1.6);
d3.range(3).forEach(r => {
  icon.append("rect").attr("x",261).attr("y",493+r*6).attr("width",10).attr("height",3).attr("fill","#d63a2f");
  icon.append("rect").attr("x",273).attr("y",493+r*6).attr("width",10).attr("height",3).attr("fill","#1f6fb2");
});
icon.append("rect").attr("x",299).attr("y",494).attr("width",12).attr("height",17).attr("fill","#fbe9e7").attr("stroke","#c0392b").attr("stroke-width",1.6);
icon.append("rect").attr("x",314).attr("y",490).attr("width",12).attr("height",21).attr("fill","#e3f0fb").attr("stroke","#1f6fb2").attr("stroke-width",1.6);
icon.append("rect").attr("x",307).attr("y",491).attr("width",8).attr("height",6).attr("fill","#fff").attr("stroke","#888").attr("stroke-width",1.2);

// One-click trading panel
const trade = svg.append("g");
function fit(px, py, size, width, str, anchor) {
  trade.append("text").attr("x",px).attr("y",py).attr("font-family",LATIN).attr("font-size",size).attr("fill","#fff")
    .attr("text-anchor",anchor||"start").attr("textLength",width).attr("lengthAdjust","spacingAndGlyphs").text(str);
}
trade.append("rect").attr("x",243).attr("y",515).attr("width",392).attr("height",127).attr("fill","#fff");
trade.append("rect").attr("x",255.5).attr("y",522.5).attr("width",86).attr("height",43).attr("fill","url(#sellTop)");
trade.append("rect").attr("x",255.5).attr("y",566).attr("width",182.5).attr("height",69).attr("fill","url(#sellBody)");
trade.append("rect").attr("x",537).attr("y",522.5).attr("width",86).attr("height",43).attr("fill","url(#buyTop)");
trade.append("rect").attr("x",442).attr("y",566).attr("width",181).attr("height",69).attr("fill","url(#buyBody)");
trade.append("line").attr("x1",263).attr("x2",333).attr("y1",564).attr("y2",564).attr("stroke","#8e1010").attr("stroke-width",1.5);
trade.append("line").attr("x1",544).attr("x2",615).attr("y1",564).attr("y2",564).attr("stroke","#15159a").attr("stroke-width",1.5);
fit(273,551,25,46,"SELL");
fit(557,551,25,42,"BUY");
trade.append("rect").attr("x",346).attr("y",522).attr("width",187).attr("height",39).attr("fill","#f2f2f2").attr("stroke","#c4c4c4").attr("stroke-width",1.5);
trade.append("rect").attr("x",383.5).attr("y",522).attr("width",110.5).attr("height",39).attr("fill","#fff").attr("stroke","#b8b8b8").attr("stroke-width",1.5);
trade.append("path").attr("d","M359 537 L370 537 L364.5 546 Z").attr("fill","#111");
trade.append("path").attr("d","M508 546 L519 546 L513.5 537 Z").attr("fill","#111");
trade.append("text").attr("x",485).attr("y",548.5).attr("text-anchor","end").attr("font-family",LATIN).attr("font-size",23).attr("fill","#111")
  .attr("textLength",39).attr("lengthAdjust","spacingAndGlyphs").text("0.01");
fit(280,623,25,46,"0.70");
fit(334,623,61,64,"65");
fit(406,598,25,15,"4");
fit(465.5,623,25,47,"0.70");
fit(523,623,61,64,"68");
fit(594,598,25,13,"0");

// Disclaimer
const note = svg.append("g").attr("font-family",CJK).attr("font-size",54).attr("fill","#eef0f5");
const firstLine = note.append("text").attr("x",252).attr("y",2126);
firstLine.append("tspan").attr("fill","#ff7a1a").attr("font-weight",700).text(disclaimerHead);
firstLine.append("tspan").text(disclaimerLines[0]);
note.append("text").attr("x",252).attr("y",2190).text(disclaimerLines[1]);
note.append("text").attr("x",252).attr("y",2253).text(disclaimerLines[2]);
</script>
</body>
</html>
